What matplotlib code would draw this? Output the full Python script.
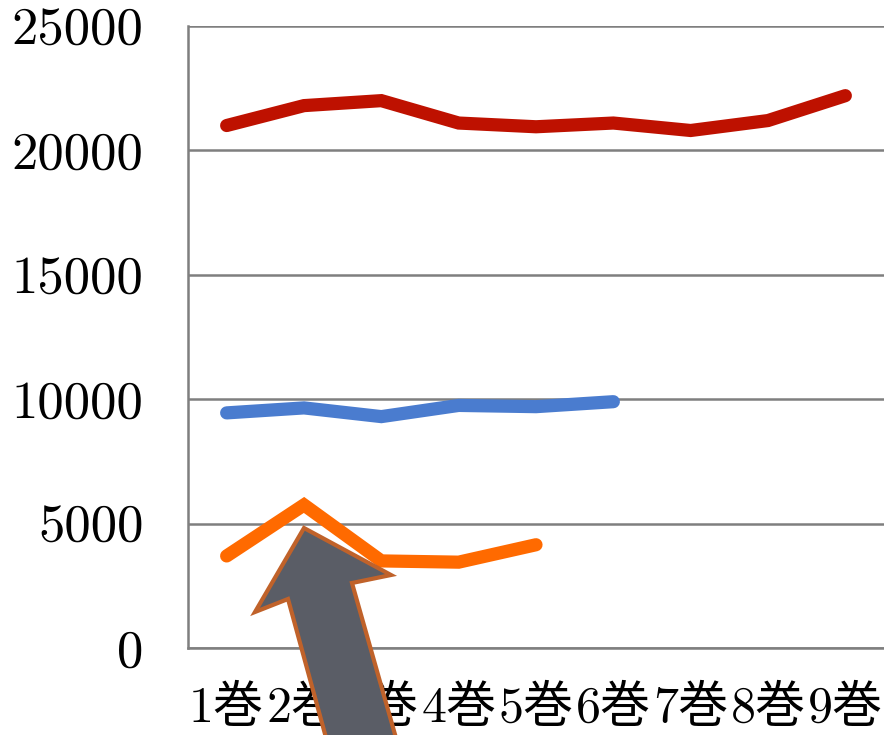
import matplotlib
matplotlib.use("Agg")
import matplotlib.pyplot as plt
from matplotlib.patches import Polygon

# Volumes on the x axis
volumes = ["1巻", "2巻", "3巻", "4巻", "5巻", "6巻", "7巻", "8巻", "9巻"]

# Sales per volume for each series
red_series = [21000, 21800, 22000, 21100, 20950, 21100, 20800, 21200, 22200]
blue_series = [9450, 9650, 9300, 9750, 9700, 9900]
orange_series = [3700, 5750, 3500, 3450, 4150]

y_ticks = [0, 5000, 10000, 15000, 20000, 25000]

W, H = 884, 735
fig = plt.figure(figsize=(W / 100, H / 100), dpi=100)
ax = fig.add_axes([188 / W, (H - 648) / H, 1 - 188 / W, (648 - 26) / H])

label_font = ["cmr10", "Noto Sans CJK JP", "DejaVu Sans"]

line_kw = dict(linewidth=9.5, solid_capstyle="round", solid_joinstyle="miter", zorder=3)
ax.plot(range(len(red_series)), red_series, color="#BE1100", **line_kw)
ax.plot(range(len(blue_series)), blue_series, color="#4A7CCF", **line_kw)
ax.plot(range(len(orange_series)), orange_series, color="#FF6A00", **line_kw)

ax.set_xlim(-0.5, len(volumes) - 0.5)
ax.set_ylim(0, 25000)
ax.set_yticks(y_ticks)
ax.set_yticklabels([str(v) for v in y_ticks], family=label_font, fontsize=38)
ax.set_xticks(range(len(volumes)))
ax.set_xticklabels(volumes, family=label_font, fontsize=36)
ax.tick_params(axis="both", length=0)
ax.tick_params(axis="y", pad=32)
ax.tick_params(axis="x", pad=27)

ax.grid(axis="y", color="#7F7F7F", linewidth=1.8, zorder=1)
for side in ["top", "right"]:
    ax.spines[side].set_visible(False)
for side in ["left", "bottom"]:
    ax.spines[side].set_color("#7F7F7F")
    ax.spines[side].set_linewidth(1.8)
ax.set_axisbelow(True)

# Block arrow pointing up at the 2巻 peak (figure pixel coordinates, y from top)
arrow_px = [(304, 528), (391, 575), (352, 583), (398, 745),
            (328, 745), (288, 599), (255, 612)]
arrow_pts = [(x / W, 1 - y / H) for x, y in arrow_px]
arrow = Polygon(arrow_pts, closed=True, facecolor="#5A5D66", edgecolor="#C0622A",
                linewidth=3, joinstyle="miter", transform=fig.transFigure, zorder=10)
fig.patches.append(arrow)

fig.savefig("out.png", dpi=100)
